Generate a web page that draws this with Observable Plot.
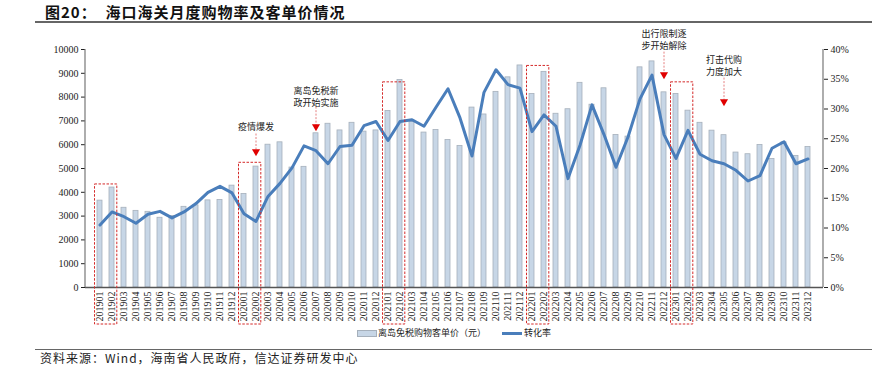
<!DOCTYPE html>
<html><head><meta charset="utf-8">
<script src="https://cdn.jsdelivr.net/npm/d3@7"></script>
<script src="https://cdn.jsdelivr.net/npm/@observablehq/plot@0.6"></script>
<style>
body{margin:0;background:#fff;}
#wrap{position:relative;width:872px;height:368px;overflow:hidden;font-family:"Liberation Serif","Noto Sans CJK SC",serif;color:#111;}
#chart{position:absolute;left:0;top:0;}
.abs{position:absolute;white-space:nowrap;}
#title{left:45px;top:3px;font-size:15px;font-weight:bold;font-family:"Noto Sans CJK SC",sans-serif;line-height:18px;letter-spacing:1px;}
.rule{position:absolute;left:35px;width:837px;height:1.5px;background:#666;}
.leg{font-size:9px;font-family:"Noto Sans CJK SC",sans-serif;line-height:12px;color:#222;}
#src{left:40px;top:350px;font-size:12px;font-family:"Noto Sans CJK SC",sans-serif;line-height:16px;color:#222;letter-spacing:1px;}
</style></head><body>
<div id="wrap">
  <div id="chart"></div>
  <div id="title" class="abs">图20：&nbsp;&nbsp;海口海关月度购物率及客单价情况</div>
  <div class="rule" style="top:21px"></div>
  <div class="abs" style="left:357px;top:330px;width:18px;height:5px;background:#c7d6e6;border:0.8px solid #a6b0bb;"></div>
  <div class="abs leg" style="left:378px;top:327px;">离岛免税购物客单价（元）</div>
  <div class="abs" style="left:502px;top:332px;width:20px;height:3px;background:#4a7ebb;"></div>
  <div class="abs leg" style="left:524px;top:327px;">转化率</div>
  <div class="rule" style="top:349px;height:1.2px;"></div>
  <div id="src" class="abs">资料来源：Wind，海南省人民政府，信达证券研发中心</div>
</div>
<script>
const months = [
  "201901","201902","201903","201904","201905","201906","201907","201908","201909","201910","201911","201912",
  "202001","202002","202003","202004","202005","202006","202007","202008","202009","202010","202011","202012",
  "202101","202102","202103","202104","202105","202106","202107","202108","202109","202110","202111","202112",
  "202201","202202","202203","202204","202205","202206","202207","202208","202209","202210","202211","202212",
  "202301","202302","202303","202304","202305","202306","202307","202308","202309","202310","202311","202312"
];
// 离岛免税购物客单价（元）
const price = [
  3650,4200,3350,3220,3180,2930,3000,3390,3450,3660,3680,4280,
  3930,5080,6000,6100,5040,5070,6480,6880,6600,6920,6550,6600,
  7420,8720,6950,6510,6620,6200,5950,7560,7270,8220,8830,9330,
  8130,9060,7300,7490,8600,7680,8370,6410,6340,9250,9500,8200,
  8130,7430,6920,6590,6400,5670,5600,5990,5400,6100,5530,5900
];
// 转化率 (%)
const rate = [
  10.5,12.7,11.9,10.8,12.3,12.8,11.7,12.7,14.1,16.0,17.0,15.9,
  12.4,11.1,15.3,17.5,20.1,23.8,23.0,20.8,23.7,23.9,27.2,27.9,
  24.7,27.9,28.2,27.1,30.3,33.4,28.5,22.1,32.8,36.6,34.1,33.5,
  26.2,29.0,27.1,18.3,23.9,30.7,25.7,20.2,25.3,31.7,35.7,25.7,
  21.7,26.4,22.4,21.3,20.8,19.7,17.9,18.8,23.4,24.5,20.8,21.6
];
const leftTicks = [0,1000,2000,3000,4000,5000,6000,7000,8000,9000,10000];
const rightTicks = [0,5,10,15,20,25,30,35,40];

// annotations
const evMonths = ["202002","202007","202212","202305"];
const evText = ["疫情爆发","离岛免税新\n政开始实施","出行限制逐\n步开始解除","打击代购\n力度加大"];
const evTextY = [6800, 8050, 10430, 9340];
const evLineTop = [6470, 7600, 9910, 8820];
const evArrowY = [5710, 6760, 8950, 7810];

// highlighted month pairs (red dashed boxes)
const boxFrom = ["201901","202001","202101","202201","202301"];
const boxTo   = ["201902","202002","202102","202202","202302"];
const boxTop  = [4330, 5240, 8620, 9310, 8620];

const K = 10000 / 40; // right axis % -> left axis units
const data = months.map((m, i) => ({m, price: price[i], rate: rate[i]}));
const events = evMonths.map((m, i) => ({m, text: evText[i], ty: evTextY[i], top: evLineTop[i], ay: evArrowY[i]}));

const FONT = '"Liberation Serif","Noto Sans CJK SC",serif';
const CJK = '"Noto Sans CJK SC",sans-serif';

const plot = Plot.plot({
  width: 872, height: 368,
  marginLeft: 85, marginRight: 49, marginTop: 49, marginBottom: 81,
  style: {fontFamily: FONT, fontSize: "10px", color: "#222", background: "transparent", overflow: "visible"},
  x: {type: "band", domain: months, paddingInner: 0.55, paddingOuter: 0.25, label: null},
  y: {domain: [0, 10000], label: null},
  marks: [
    Plot.barY(data, {x: "m", y: "price", fill: "#c7d6e6", stroke: "#a6b0bb", strokeWidth: 0.8}),
    Plot.line(data, {x: "m", y: d => d.rate * K, stroke: "#4a7ebb", strokeWidth: 3, strokeLinejoin: "round"}),
    Plot.axisY({anchor: "left", ticks: leftTicks, tickFormat: d => String(d), tickSize: 4, tickPadding: 3, label: null, fontSize: 10}),
    Plot.axisY({anchor: "right", ticks: rightTicks.map(t => t * K), tickFormat: d => Math.round(d / K) + "%", tickSize: 4, tickPadding: 3, label: null, fontSize: 10}),
    Plot.axisX({ticks: months, tickRotate: -90, tickSize: 0, tickPadding: 4, label: null, fontSize: 10}),
    Plot.ruleY([0], {stroke: "#555", strokeWidth: 1.5}),
    Plot.link(events, {x1: "m", x2: "m", y1: "top", y2: "ay", stroke: "#e06060", strokeWidth: 0.8, strokeDasharray: "2,1.5"}),
    Plot.dot(events, {x: "m", y: "ay", symbol: "triangle", rotate: 180, r: 3, fill: "#e00000", stroke: "none"}),
    Plot.text(events, {x: "m", y: "ty", text: "text", fontSize: 9, lineHeight: 1.35, fill: "#222", fontFamily: CJK})
  ]
});
document.getElementById("chart").appendChild(plot);

// axis lines and highlight boxes from the plot's own scales
const sx = plot.scale("x"), sy = plot.scale("y");
const svg = d3.select(plot);
const bw = sx.bandwidth;
const [x0, x1] = sx.range;
const y0 = sy.apply(0), yTop = sy.apply(10000);
const g = svg.append("g");
g.append("line").attr("x1", x0).attr("x2", x0).attr("y1", yTop).attr("y2", y0).attr("stroke", "#777").attr("stroke-width", 1.2);
g.append("line").attr("x1", x1).attr("x2", x1).attr("y1", yTop).attr("y2", y0).attr("stroke", "#777").attr("stroke-width", 1.2);
boxFrom.forEach((a, i) => {
  const xa = sx.apply(a) - 2.5;
  const xb = sx.apply(boxTo[i]) + bw + 2.8;
  const yt = sy.apply(boxTop[i]);
  const yb = y0 + 37;
  g.append("rect").attr("x", xa).attr("y", yt).attr("width", xb - xa).attr("height", yb - yt)
    .attr("fill", "none").attr("stroke", "#d42a2a").attr("stroke-width", 1).attr("stroke-dasharray", "2.5,1.5");
});
</script>
</body></html>
